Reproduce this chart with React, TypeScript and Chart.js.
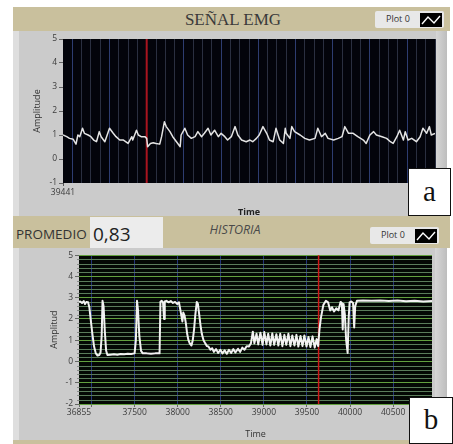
import { useEffect, useRef } from "react";
import { Chart, registerables } from "chart.js";
Chart.register(...registerables);

// ---------- data ----------
const emgStart = 39441;
const emgEnd = 39841;
const emgCursor = 39531;
const emgTime = [
  0, 4, 7, 11, 14, 16, 18, 21, 23, 27, 30, 33, 36, 39, 41, 45, 50, 54, 57, 61, 65, 70, 74, 75, 79, 81, 84, 88, 90,
  91, 94, 97, 100, 104, 106, 109, 111, 115, 118, 122, 126, 127, 131, 134, 138, 142, 145, 149, 152, 156, 159, 163,
  167, 170, 174, 177, 181, 185, 188, 192, 197, 201, 204, 208, 211, 215, 219, 222, 226, 229, 233, 237, 239, 240, 244,
  246, 249, 255, 260, 265, 271, 274, 278, 282, 285, 291, 296, 300, 303, 307, 312, 317, 323, 326, 330, 334, 337, 343,
  348, 352, 355, 359, 362, 366, 368, 371, 375, 380, 384, 387, 391, 394, 396, 400,
];
const emgAmp = [
  1.0, 0.93, 0.86, 0.82, 0.62, 1.0, 0.93, 1.28, 1.07, 1.0, 0.93, 0.79, 0.72, 1.14, 0.93, 0.72, 1.28, 1.07, 0.93, 0.79,
  0.79, 0.65, 0.93, 0.79, 1.2, 1.0, 0.93, 0.93, 0.86, 0.51, 0.65, 0.68, 0.65, 0.62, 0.93, 1.55, 1.35, 1.14, 0.93,
  0.72, 0.51, 1.0, 1.28, 1.0, 0.86, 0.93, 1.14, 0.93, 1.07, 1.28, 1.0, 1.2, 0.93, 1.07, 0.93, 0.79, 0.93, 1.35, 1.0,
  0.79, 0.72, 0.79, 0.72, 0.86, 1.0, 1.35, 1.07, 0.79, 0.72, 1.28, 0.79, 0.65, 1.28, 1.07, 0.86, 1.35, 1.14, 1.0,
  0.86, 0.79, 0.86, 1.28, 0.93, 1.07, 0.86, 0.79, 0.86, 0.93, 1.35, 1.07, 1.07, 0.93, 0.79, 0.65, 1.0, 1.14, 1.0,
  0.93, 0.86, 0.72, 0.65, 0.93, 1.2, 0.79, 1.14, 0.79, 0.86, 0.72, 0.93, 1.28, 1.07, 1.35, 1.0, 1.07,
];
const emgYTicks = [-1, 0, 1, 2, 3, 4, 5];

const histMin = 36855;
const histMax = 40951;
const histCursor = 39635;
const histTime = [
  36855, 36870, 36890, 36910, 36925, 36940, 36960, 36975, 36990, 37010, 37030, 37050, 37070, 37090, 37105, 37118,
  37128, 37140, 37155, 37170, 37185, 37220, 37260, 37300, 37340, 37380, 37420, 37460, 37500, 37515, 37528, 37540,
  37555, 37575, 37595, 37640, 37690, 37740, 37790, 37800, 37815, 37830, 37842, 37850, 37870, 37895, 37920, 37945,
  37970, 37995, 38015, 38030, 38045, 38055, 38065, 38080, 38095, 38110, 38125, 38140, 38160, 38175, 38190, 38205,
  38222, 38235, 38250, 38265, 38280, 38300, 38320, 38340, 38357, 38380, 38400, 38420, 38445, 38470, 38495, 38520,
  38545, 38570, 38595, 38620, 38645, 38670, 38700, 38725, 38750, 38775, 38800, 38825, 38850, 38872, 38890, 38915,
  38935, 38960, 38985, 39005, 39030, 39050, 39075, 39098, 39120, 39145, 39168, 39190, 39215, 39238, 39260, 39285,
  39308, 39330, 39355, 39378, 39400, 39425, 39448, 39470, 39495, 39518, 39540, 39565, 39590, 39612, 39630, 39645,
  39662, 39690, 39720, 39745, 39770, 39790, 39815, 39840, 39865, 39890, 39905, 39915, 39925, 39940, 39955, 39972,
  39985, 39995, 40015, 40035, 40048, 40060, 40080, 40150, 40250, 40350, 40450, 40550, 40650, 40750, 40850, 40951,
];
const histAmp = [
  2.8, 2.82, 2.75, 2.84, 2.7, 2.8, 2.78, 2.55, 2.0, 1.3, 0.7, 0.38, 0.28, 0.3, 0.42, 1.2, 2.85, 2.6, 1.4, 0.5, 0.3,
  0.32, 0.34, 0.32, 0.35, 0.34, 0.36, 0.35, 0.38, 1.0, 2.85, 2.4, 1.2, 0.5, 0.38, 0.38, 0.36, 0.38, 0.38, 2.8, 2.85,
  2.78, 2.0, 2.82, 2.85, 2.78, 2.84, 2.75, 2.8, 2.7, 2.78, 2.45, 2.1, 1.88, 2.3, 2.15, 1.8, 1.3, 1.0, 0.85, 0.75, 1.0,
  1.5, 2.2, 2.8, 2.7, 2.2, 1.7, 1.3, 1.0, 0.85, 0.72, 0.7, 0.55, 0.62, 0.45, 0.58, 0.4, 0.55, 0.38, 0.52, 0.36, 0.55,
  0.4, 0.58, 0.42, 0.6, 0.45, 0.65, 0.55, 0.72, 0.7, 0.85, 1.4, 0.85, 1.3, 0.8, 1.35, 0.78, 1.38, 0.8, 1.3, 0.75,
  1.32, 0.78, 1.28, 0.75, 1.3, 0.72, 1.25, 0.78, 1.3, 0.72, 1.22, 0.75, 1.25, 0.7, 1.2, 0.72, 1.22, 0.7, 1.15, 0.68,
  1.18, 0.65, 1.05, 0.72, 1.5, 2.05, 2.65, 2.85, 2.78, 2.4, 2.55, 2.35, 2.5, 2.4, 2.8, 2.75, 1.5, 2.7, 2.2, 1.0, 0.4,
  2.1, 2.78, 2.82, 2.75, 1.6, 2.6, 2.85, 2.86, 2.85, 2.87, 2.84, 2.86, 2.83, 2.85, 2.82, 2.84,
];
const histXTicks = [36855, 37000, 37500, 38000, 38500, 39000, 39500, 40000, 40500];
const histXLabels = ["36855", "", "37500", "38000", "38500", "39000", "39500", "40000", "40500"];
const histYTicks = [-2, -1, 0, 1, 2, 3, 4, 5];
const histMinorPerMajor = 5;
const promedio = "0,83";

// ---------- styles ----------
const SANS = "'Open Sans', 'Noto Sans', sans-serif";
const TAN = "#c9c09d";
const PANEL = "#cbcbcb";

function makePlotBg(bg: string, minor: string | null, majors: number[], per: number) {
  return {
    id: "plotBg",
    beforeDatasetsDraw(chart: any) {
      const { ctx, chartArea } = chart;
      if (!minor) return;
      const ys = chart.scales.y;
      ctx.save();
      ctx.lineWidth = 1;
      for (let m = 0; m < majors.length - 1; m++) {
        for (let k = 1; k < per; k++) {
          const v = majors[m] + ((majors[m + 1] - majors[m]) * k) / per;
          const py = Math.round(ys.getPixelForValue(v)) + 0.5;
          ctx.strokeStyle = minor;
          ctx.beginPath();
          ctx.moveTo(chartArea.left, py);
          ctx.lineTo(chartArea.right, py);
          ctx.stroke();
          ctx.strokeStyle = "#8a8a8a";
          ctx.beginPath();
          ctx.moveTo(chartArea.left - 2, py);
          ctx.lineTo(chartArea.left, py);
          ctx.stroke();
        }
      }
      ctx.restore();
    },
    beforeDraw(chart: any) {
      const { ctx, chartArea } = chart;
      ctx.save();
      ctx.fillStyle = bg;
      ctx.fillRect(chartArea.left, chartArea.top, chartArea.right - chartArea.left, chartArea.bottom - chartArea.top);
      ctx.restore();
    },
  };
}

function topConfig(): any {
  return {
    type: "line",
    data: {
      datasets: [
        {
          data: emgTime.map((t, i) => ({ x: emgStart + t, y: emgAmp[i] })),
          borderColor: "#e4e4e4",
          borderWidth: 1.5,
          borderJoinStyle: "round",
          pointRadius: 0,
        },
        {
          data: [
            { x: emgCursor, y: emgYTicks[0] },
            { x: emgCursor, y: emgYTicks[emgYTicks.length - 1] },
          ],
          borderColor: "#a8141f",
          borderWidth: 2,
          pointRadius: 0,
        },
      ],
    },
    options: {
      animation: false,
      responsive: false,
      events: [],
      layout: { padding: { left: 0, right: 10, top: 9, bottom: 0 } },
      plugins: { legend: { display: false }, tooltip: { enabled: false } },
      scales: {
        x: {
          type: "linear",
          min: emgStart,
          max: emgEnd,
          afterFit(s: any) {
            s.height = 35;
          },
          afterBuildTicks(s: any) {
            const t: any[] = [];
            for (let v = emgStart; v <= emgEnd; v += 10) t.push({ value: v });
            s.ticks = t;
          },
          border: { display: false },
          grid: {
            color: (c: any) => (c.index === 0 ? "rgba(0,0,0,0)" : c.index % 4 === 1 ? "#2d3c70" : "#2a2f40"),
            lineWidth: 1,
            tickLength: 3,
            tickColor: (c: any) => (c.index === 0 ? "#555" : "rgba(0,0,0,0)"),
          },
          ticks: {
            autoSkip: false,
            maxRotation: 0,
            padding: 1,
            color: "#3c3c3c",
            font: { family: SANS, size: 8.5 },
            callback: (v: any, i: number) => (i === 0 ? String(v) : ""),
          },
          title: {
            display: true,
            text: "Time",
            color: "#222",
            font: { family: SANS, size: 9, weight: "bold" },
            padding: { top: 4, bottom: 0 },
          },
        },
        y: {
          min: emgYTicks[0],
          max: emgYTicks[emgYTicks.length - 1],
          afterFit(s: any) {
            s.width = 50;
          },
          afterBuildTicks(s: any) {
            s.ticks = emgYTicks.map((v) => ({ value: v }));
          },
          border: { display: false },
          grid: { drawOnChartArea: false, tickLength: 4, tickColor: "#666" },
          ticks: { padding: 2, color: "#3c3c3c", font: { family: SANS, size: 8.5 } },
          title: {
            display: true,
            text: "Amplitude",
            color: "#333",
            font: { family: SANS, size: 9 },
            padding: { top: 19, bottom: 0 },
          },
        },
      },
    },
    plugins: [makePlotBg("#03040b", null, emgYTicks, 1)],
  };
}

function bottomConfig(): any {
  const yMin = histYTicks[0];
  const yMax = histYTicks[histYTicks.length - 1];
  return {
    type: "line",
    data: {
      datasets: [
        {
          data: histTime.map((t, i) => ({ x: t, y: histAmp[i] })),
          borderColor: "#f2f2f2",
          borderWidth: 2,
          borderJoinStyle: "round",
          pointRadius: 0,
        },
        {
          data: [
            { x: histCursor, y: yMin },
            { x: histCursor, y: yMax },
          ],
          borderColor: "#d01818",
          borderWidth: 1.5,
          pointRadius: 0,
        },
      ],
    },
    options: {
      animation: false,
      responsive: false,
      events: [],
      layout: { padding: { left: 0, right: 13, top: 4, bottom: 0 } },
      plugins: { legend: { display: false }, tooltip: { enabled: false } },
      scales: {
        x: {
          type: "linear",
          min: histMin,
          max: histMax,
          afterFit(s: any) {
            s.height = 36;
          },
          afterBuildTicks(s: any) {
            s.ticks = histXTicks.map((v) => ({ value: v }));
          },
          border: { display: false },
          grid: {
            color: (c: any) => (c.index === 0 ? "rgba(0,0,0,0)" : "#24357a"),
            lineWidth: 1,
            tickLength: 3,
            tickColor: "#666",
          },
          ticks: {
            autoSkip: false,
            maxRotation: 0,
            padding: 0,
            color: "#3c3c3c",
            font: { family: SANS, size: 8.5 },
            callback: (_v: any, i: number) => histXLabels[i] ?? "",
          },
          title: {
            display: true,
            text: "Time",
            color: "#333",
            font: { family: SANS, size: 9 },
            padding: { top: 2, bottom: 0 },
          },
        },
        y: {
          min: yMin,
          max: yMax,
          afterFit(s: any) {
            s.width = 66;
          },
          afterBuildTicks(s: any) {
            s.ticks = histYTicks.map((v) => ({ value: v }));
          },
          border: { display: false },
          grid: {
            color: "#62a03e",
            lineWidth: 1,
            tickLength: 4,
            tickColor: "#666",
          },
          ticks: {
            autoSkip: false,
            padding: 2,
            color: "#3c3c3c",
            font: { family: SANS, size: 8.5 },
          },
          title: {
            display: true,
            text: "Amplitud",
            color: "#333",
            font: { family: SANS, size: 9 },
            padding: { top: 36, bottom: 0 },
          },
        },
      },
    },
    plugins: [makePlotBg("#040804", "#5a7c5a", histYTicks, histMinorPerMajor)],
  };
}

function ChartCanvas(props: { make: () => any; left: number; top: number; width: number; height: number }) {
  const ref = useRef<HTMLCanvasElement | null>(null);
  useEffect(() => {
    const c = new Chart(ref.current as HTMLCanvasElement, props.make());
    return () => c.destroy();
  }, []);
  return (
    <canvas
      ref={ref}
      width={props.width}
      height={props.height}
      style={{ position: "absolute", left: props.left, top: props.top, width: props.width, height: props.height }}
    />
  );
}

function PlotLegend(props: { left: number; top: number }) {
  return (
    <div
      style={{
        position: "absolute",
        left: props.left,
        top: props.top,
        width: 69,
        height: 17,
        background: "#e8e8e8",
        borderRadius: 2,
      }}
    >
      <span
        style={{
          position: "absolute",
          left: 11,
          top: 2,
          fontSize: 9,
          lineHeight: "12px",
          fontFamily: SANS,
          color: "#333",
        }}
      >
        Plot 0
      </span>
      <div style={{ position: "absolute", left: 45, top: 2, width: 22, height: 14, background: "#000" }}>
        <svg width={22} height={14} style={{ display: "block" }}>
          <polyline points="2,11 8,4 14,10 20,3" stroke="#fff" fill="none" strokeWidth={1.4} />
        </svg>
      </div>
    </div>
  );
}

function LetterBox(props: { left: number; top: number; width: number; height: number; text: string }) {
  return (
    <div
      style={{
        position: "absolute",
        left: props.left,
        top: props.top,
        width: props.width,
        height: props.height,
        background: "#fff",
        border: "1px solid #111",
        boxSizing: "border-box",
        fontFamily: "'Liberation Serif', 'DejaVu Serif', serif",
        fontSize: 29,
        lineHeight: props.height - 4 + "px",
        textAlign: "center",
        color: "#111",
      }}
    >
      {props.text}
    </div>
  );
}

export default function App() {
  return (
    <div style={{ position: "absolute", left: 0, top: 0, width: 453, height: 444, background: "#fff", overflow: "hidden" }}>
      {/* top section */}
      <div style={{ position: "absolute", left: 13, top: 7, width: 437, height: 24, background: TAN }} />
      <span
        style={{
          position: "absolute",
          left: 233,
          top: 10,
          transform: "translateX(-50%)",
          fontFamily: "'Liberation Serif', serif",
          fontSize: 17,
          lineHeight: "20px",
          color: "#3a3a3a",
          whiteSpace: "nowrap",
        }}
      >
        SEÑAL EMG
      </span>
      <PlotLegend left={375} top={11} />
      <div style={{ position: "absolute", left: 13, top: 31, width: 434, height: 185, background: PANEL }} />
      <div style={{ position: "absolute", left: 13, top: 31, width: 6, height: 185, background: "#dedede" }} />
      <div
        style={{
          position: "absolute",
          left: 436,
          top: 31,
          width: 11,
          height: 185,
          background: "linear-gradient(90deg, #d6d6d6, #bdbdbd)",
        }}
      />
      <ChartCanvas make={topConfig} left={13} top={30} width={432} height={188} />
      <LetterBox left={408} top={168} width={43} height={48} text="a" />

      {/* bottom section */}
      <div style={{ position: "absolute", left: 13, top: 216, width: 437, height: 32, background: TAN }} />
      <div style={{ position: "absolute", left: 90, top: 217, width: 73, height: 31, background: "#ececec" }} />
      <span
        style={{
          position: "absolute",
          left: 16,
          top: 225,
          fontFamily: SANS,
          fontSize: 13.5,
          lineHeight: "18px",
          color: "#333",
        }}
      >
        PROMEDIO
      </span>
      <span
        style={{
          position: "absolute",
          left: 93,
          top: 221,
          fontFamily: SANS,
          fontSize: 19,
          lineHeight: "26px",
          color: "#222",
        }}
      >
        {promedio}
      </span>
      <span
        style={{
          position: "absolute",
          left: 235,
          top: 222,
          transform: "translateX(-50%)",
          fontFamily: SANS,
          fontStyle: "italic",
          fontSize: 12.5,
          lineHeight: "16px",
          color: "#4a4a4a",
          whiteSpace: "nowrap",
        }}
      >
        HISTORIA
      </span>
      <PlotLegend left={370} top={227} />
      <div style={{ position: "absolute", left: 13, top: 248, width: 434, height: 192, background: PANEL }} />
      <div style={{ position: "absolute", left: 13, top: 248, width: 6, height: 192, background: "#dedede" }} />
      <div
        style={{
          position: "absolute",
          left: 435,
          top: 248,
          width: 12,
          height: 192,
          background: "linear-gradient(90deg, #d6d6d6, #bdbdbd)",
        }}
      />
      <div style={{ position: "absolute", left: 13, top: 440, width: 437, height: 4, background: TAN }} />
      <ChartCanvas make={bottomConfig} left={13} top={248} width={432} height={192} />
      <LetterBox left={409} top={397} width={44} height={47} text="b" />
    </div>
  );
}
